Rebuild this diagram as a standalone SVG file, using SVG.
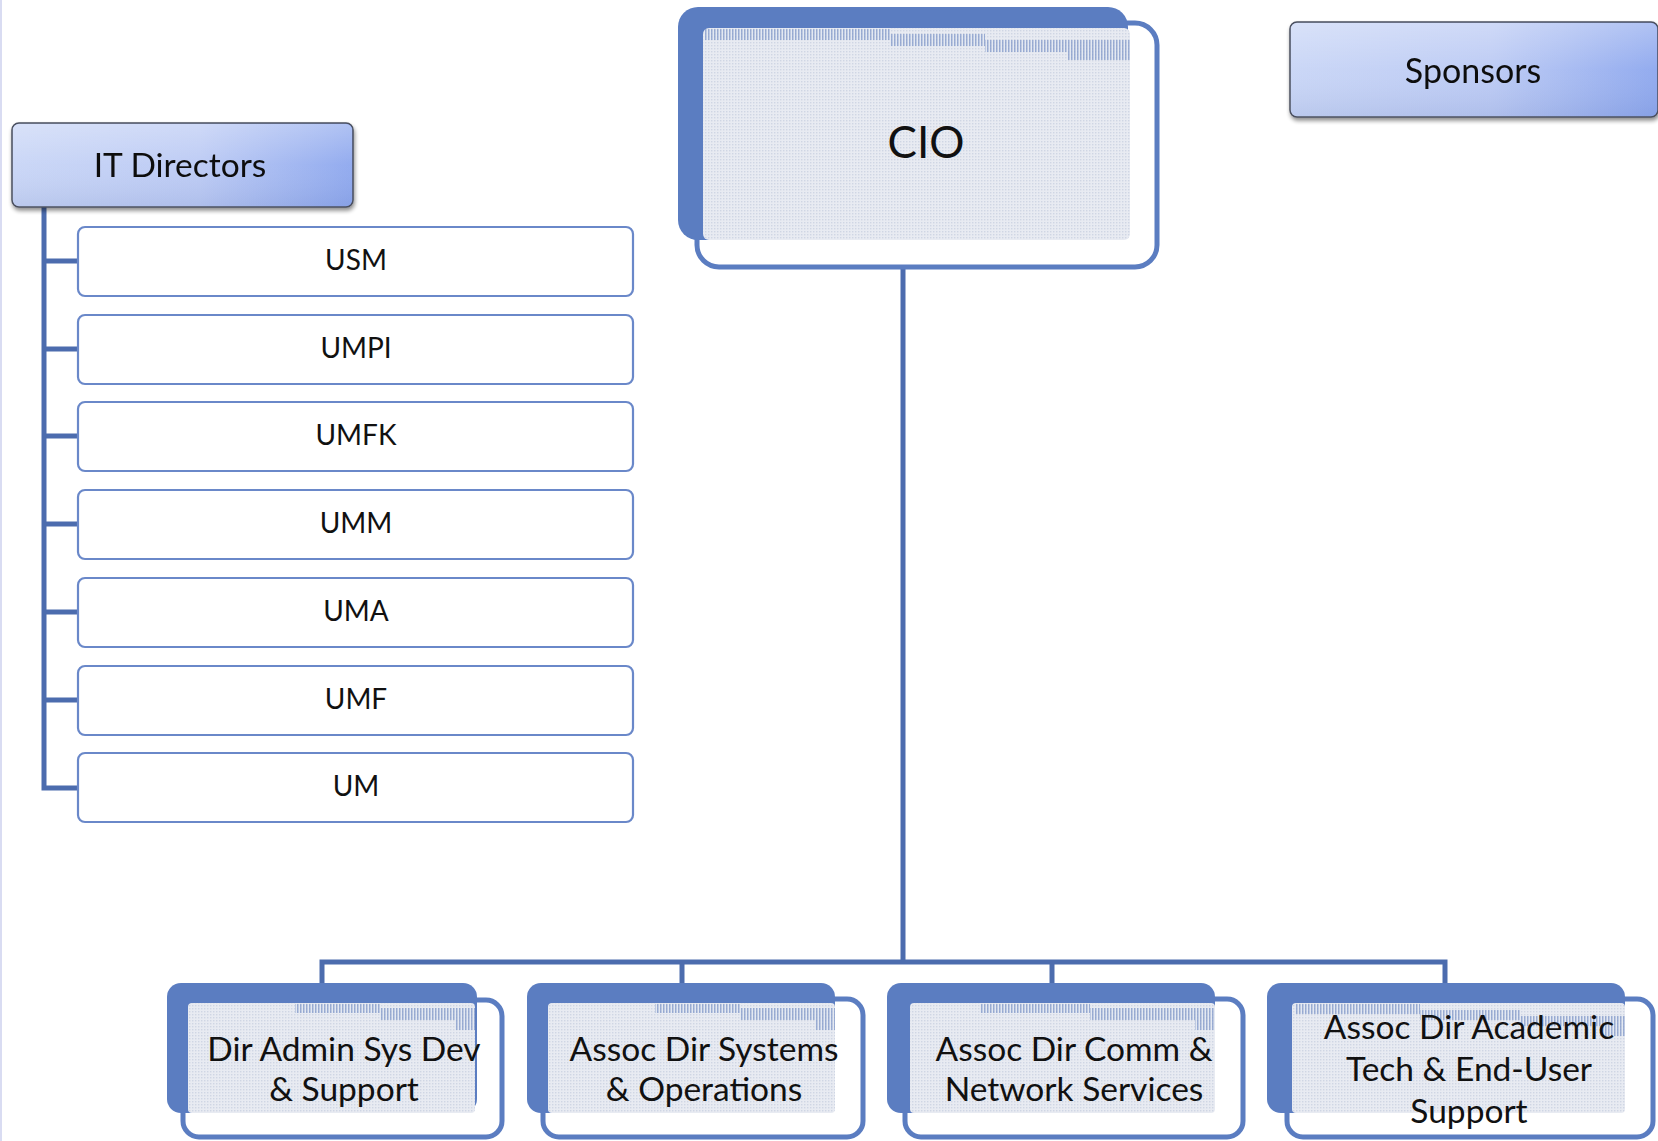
<svg xmlns="http://www.w3.org/2000/svg" width="1658" height="1141" viewBox="0 0 1658 1141">
  <defs>
    <pattern id="dots" width="3" height="3" patternUnits="userSpaceOnUse">
      <rect width="3" height="3" fill="#e8ebf2"/>
      <rect x="0" y="0" width="1.4" height="1.4" fill="#cfd6e4"/>
    </pattern>
    <pattern id="stripes" width="3" height="6" patternUnits="userSpaceOnUse">
      <rect width="3" height="6" fill="#e3e8f2"/>
      <rect x="0" y="0" width="1.5" height="6" fill="#8299c9"/>
    </pattern>
    <linearGradient id="pill" x1="0" y1="0" x2="1" y2="0">
      <stop offset="0" stop-color="#c8d5f6"/>
      <stop offset="0.55" stop-color="#bac9f4"/>
      <stop offset="1" stop-color="#8da7ee"/>
    </linearGradient>
    <linearGradient id="gloss" x1="0" y1="0" x2="0" y2="1">
      <stop offset="0" stop-color="#ffffff" stop-opacity="0.3"/>
      <stop offset="0.5" stop-color="#ffffff" stop-opacity="0.05"/>
      <stop offset="1" stop-color="#5a6fa8" stop-opacity="0.12"/>
    </linearGradient>
    <filter id="drop" x="-5%" y="-10%" width="110%" height="130%">
      <feGaussianBlur in="SourceAlpha" stdDeviation="2"/>
      <feOffset dx="1" dy="3"/>
      <feComponentTransfer><feFuncA type="linear" slope="0.45"/></feComponentTransfer>
      <feMerge><feMergeNode/><feMergeNode in="SourceGraphic"/></feMerge>
    </filter>
  </defs>
  <style>
    .txt { font-family: Lato, "Open Sans", "Liberation Sans", sans-serif; fill: #111; text-anchor: middle; }
    .head { fill: url(#pill); stroke: #4a4f5e; stroke-width: 1.5; }
    .sheen { fill: url(#gloss); }
    .unit { fill: #ffffff; stroke: #6a88c9; stroke-width: 2.2; }
    .back { fill: #5b7dc1; }
    .front { fill: #ffffff; stroke: #5b7dc1; stroke-width: 5; }
    .tex { fill: url(#dots); }
    .band { fill: url(#stripes); opacity: 0.75; }
    .link { stroke: #4c6cae; stroke-width: 5; fill: none; }
    .small { font-size: 28px; }
    .mid { font-size: 33.5px; }
  </style>

  <rect width="1658" height="1141" fill="#ffffff"/>
  <line x1="1" y1="0" x2="1" y2="1141" stroke="#d9dcf2" stroke-width="2"/>

  <!-- connectors -->
  <g id="connectors">
    <!-- IT directors spine and stubs -->
    <path class="link" d="M44 207 V788 H78"/>
    <path class="link" d="M44 261 H78 M44 349 H78 M44 436 H78 M44 524 H78 M44 612 H78 M44 700 H78"/>
    <!-- CIO to direct reports -->
    <path class="link" d="M903 265 V962"/>
    <path class="link" d="M322 983 V962 H1445 V983"/>
    <path class="link" d="M682 962 V983 M1052 962 V983"/>
  </g>

  <!-- top level -->
  <g id="cio">
    <rect class="front" x="697" y="23" width="460" height="244" rx="22"/>
    <rect class="back" x="678" y="7" width="450" height="233" rx="20"/>
    <rect class="tex" x="703" y="28" width="427" height="212" rx="6"/>
    <path class="band" d="M705 29 H890 V34 H985 V40 H1130 V60 H1068 V52 H985 V46 H890 V40 H705 Z"/>
    <text class="txt" x="926" y="158" font-size="44">CIO</text>
  </g>

  <g id="sponsors" filter="url(#drop)">
    <rect class="head" x="1290" y="22" width="368" height="95" rx="7"/>
    <rect class="sheen" x="1291" y="23" width="366" height="93" rx="6"/>
    <text class="txt" x="1473" y="83" font-size="34" fill="#141a2e">Sponsors</text>
  </g>

  <g id="it-directors" filter="url(#drop)">
    <rect class="head" x="12" y="123" width="341" height="84" rx="7"/>
    <rect class="sheen" x="13" y="124" width="339" height="82" rx="6"/>
    <text class="txt" x="180" y="177" font-size="33.5">IT Directors</text>
  </g>

  <!-- campuses -->
  <g id="usm">
    <rect class="unit" x="78" y="227" width="555" height="69" rx="7"/>
    <text class="txt small" x="356" y="270">USM</text>
  </g>
  <g id="umpi">
    <rect class="unit" x="78" y="315" width="555" height="69" rx="7"/>
    <text class="txt small" x="356" y="358">UMPI</text>
  </g>
  <g id="umfk">
    <rect class="unit" x="78" y="402" width="555" height="69" rx="7"/>
    <text class="txt small" x="356" y="445">UMFK</text>
  </g>
  <g id="umm">
    <rect class="unit" x="78" y="490" width="555" height="69" rx="7"/>
    <text class="txt small" x="356" y="533">UMM</text>
  </g>
  <g id="uma">
    <rect class="unit" x="78" y="578" width="555" height="69" rx="7"/>
    <text class="txt small" x="356" y="621">UMA</text>
  </g>
  <g id="umf">
    <rect class="unit" x="78" y="666" width="555" height="69" rx="7"/>
    <text class="txt small" x="356" y="709">UMF</text>
  </g>
  <g id="um">
    <rect class="unit" x="78" y="753" width="555" height="69" rx="7"/>
    <text class="txt small" x="356" y="796">UM</text>
  </g>

  <!-- direct reports -->
  <g id="dir-admin">
    <rect class="front" x="183" y="1000" width="319" height="137" rx="16"/>
    <rect class="back" x="167" y="983" width="310" height="130" rx="14"/>
    <rect class="tex" x="188" y="1003" width="287" height="110" rx="4"/>
    <path class="band" d="M295 1004 H380 V1008 H475 V1030 H455 V1020 H380 V1013 H295 Z"/>
    <text class="txt mid" x="344" y="1061">Dir Admin Sys Dev</text>
    <text class="txt mid" x="344" y="1101">&amp; Support</text>
  </g>

  <g id="assoc-systems">
    <rect class="front" x="543" y="999" width="320" height="138" rx="16"/>
    <rect class="back" x="527" y="983" width="308" height="130" rx="14"/>
    <rect class="tex" x="548" y="1003" width="287" height="110" rx="4"/>
    <path class="band" d="M655 1004 H740 V1008 H835 V1030 H815 V1020 H740 V1013 H655 Z"/>
    <text class="txt mid" x="704" y="1061">Assoc Dir Systems</text>
    <text class="txt mid" x="704" y="1101">&amp; Operations</text>
  </g>

  <g id="assoc-network">
    <rect class="front" x="905" y="999" width="338" height="138" rx="16"/>
    <rect class="back" x="887" y="983" width="328" height="130" rx="14"/>
    <rect class="tex" x="910" y="1003" width="305" height="110" rx="4"/>
    <path class="band" d="M980 1004 H1090 V1008 H1215 V1030 H1195 V1020 H1090 V1013 H980 Z"/>
    <text class="txt mid" x="1074" y="1061">Assoc Dir Comm &amp;</text>
    <text class="txt mid" x="1074" y="1101">Network Services</text>
  </g>

  <g id="assoc-academic">
    <rect class="front" x="1287" y="999" width="366" height="138" rx="16"/>
    <rect class="back" x="1267" y="983" width="358" height="130" rx="14"/>
    <rect class="tex" x="1292" y="1003" width="333" height="110" rx="4"/>
    <path class="band" d="M1295 1004 H1420 V1010 H1520 V1016 H1625 V1036 H1600 V1026 H1520 V1020 H1420 V1014 H1295 Z"/>
    <text class="txt mid" x="1469" y="1039">Assoc Dir Academic</text>
    <text class="txt mid" x="1469" y="1081">Tech &amp; End-User</text>
    <text class="txt mid" x="1469" y="1123">Support</text>
  </g>
</svg>
